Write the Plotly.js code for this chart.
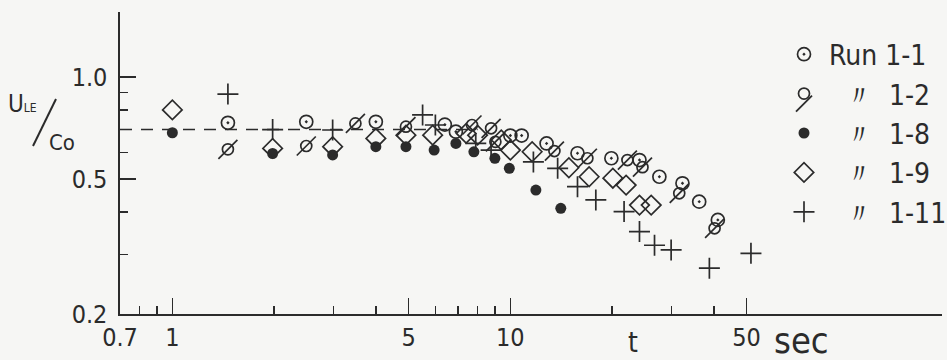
<!DOCTYPE html>
<html><head><meta charset="utf-8">
<script src="https://cdn.plot.ly/plotly-3.0.1.min.js"></script>
<style>html,body{margin:0;padding:0;background:#f6f6f4}</style>
</head><body><div id="chart" style="width:947px;height:360px"></div>
<script>
// Run 1-1 (circle with dot)
const run1_1_t = [1.46, 2.49, 4.0, 6.4, 6.9, 10.0, 10.8, 12.8, 15.8, 19.9, 24.1, 27.6, 32.3, 36.2, 41.1];
const run1_1_u = [0.733, 0.738, 0.738, 0.724, 0.69, 0.672, 0.672, 0.637, 0.596, 0.576, 0.569, 0.508, 0.486, 0.429, 0.379];
// Run 1-2 (slashed circle)
const run1_2_t = [1.46, 2.49, 3.48, 4.91, 7.7, 8.77, 9.03, 13.5, 16.9, 22.2, 24.6, 31.6, 40.2];
const run1_2_u = [0.612, 0.626, 0.73, 0.714, 0.722, 0.706, 0.644, 0.605, 0.576, 0.569, 0.542, 0.454, 0.358];
// Run 1-8 (filled circle)
const run1_8_t = [1.0, 1.98, 2.98, 4.0, 4.91, 5.95, 6.9, 7.8, 9.0, 9.93, 11.9, 14.1];
const run1_8_u = [0.685, 0.595, 0.589, 0.623, 0.623, 0.609, 0.637, 0.602, 0.576, 0.538, 0.464, 0.410];
// Run 1-9 (open diamond)
const run1_9_t = [1.0, 1.98, 2.98, 4.0, 4.91, 5.89, 7.4, 8.0, 9.4, 10.0, 11.6, 14.9, 17.1, 20.1, 22.0, 24.1, 26.1];
const run1_9_u = [0.80, 0.616, 0.623, 0.659, 0.674, 0.674, 0.682, 0.674, 0.652, 0.609, 0.602, 0.54, 0.508, 0.503, 0.48, 0.419, 0.419];
// Run 1-11 (plus)
const run1_11_t = [1.46, 1.98, 2.98, 5.5, 6.0, 7.9, 8.77, 11.7, 13.8, 15.8, 17.9, 21.7, 24.1, 26.7, 29.9, 38.8, 51.5];
const run1_11_u = [0.891, 0.70, 0.698, 0.773, 0.722, 0.637, 0.609, 0.562, 0.538, 0.475, 0.434, 0.401, 0.35, 0.319, 0.309, 0.273, 0.302];
// reference dashed level
const ref_t = [0.7, 8.0];
const ref_u = [0.70, 0.70];

const xTickVals = [0.7, 1, 5, 10, 50];
const xTickText = ['0.7', '1', '5', '10', '50'];
const xMinor = [0.8, 0.9, 2, 3, 4, 6, 7, 8, 9, 20, 30, 40];
const yTickVals = [0.2, 0.5, 1.0];
const yTickText = ['0.2', '0.5', '1.0'];
const yMinor = [0.3, 0.4, 0.6, 0.7, 0.8, 0.9];

const INK = '#2b2b2b';
const FONT = '"DejaVu Sans Condensed", "Liberation Sans Narrow", "DejaVu Sans", sans-serif';
const NB = '\u00A0';
const DITTO = NB+NB+'〃'+NB+NB;

const traces = [
  {x: ref_t, y: ref_u, mode: 'lines', line: {color: INK, width: 1.4, dash: '12px,9px'}, showlegend: false, hoverinfo: 'skip'},
  {x: run1_8_t, y: run1_8_u, mode: 'markers', name: DITTO+'1-8', legendrank: 3, legendgroup: 'c',
   marker: {symbol: 'circle', size: 11, color: INK}},
  {x: run1_9_t, y: run1_9_u, mode: 'markers', name: DITTO+'1-9', legendrank: 4, legendgroup: 'd',
   marker: {symbol: 'diamond-open', size: 15, color: INK, line: {width: 1.7, color: INK}}},
  {x: run1_1_t, y: run1_1_u, mode: 'markers', name: 'Run 1-1', legendrank: 1, legendgroup: 'a',
   marker: {symbol: 'circle-open-dot', size: 13, color: INK, line: {width: 1.7, color: INK}}},
  {x: run1_2_t, y: run1_2_u, mode: 'markers', name: DITTO+'1-2', legendrank: 2, legendgroup: 'b',
   marker: {symbol: 'circle-open', size: 11, color: INK, line: {width: 1.7, color: INK}}},
  {x: run1_2_t, y: run1_2_u, mode: 'markers', name: NB, legend: 'legend2',
   marker: {symbol: 'line-ne-open', size: 19, color: INK, line: {width: 1.7, color: INK}}},
  {x: run1_11_t, y: run1_11_u, mode: 'markers', name: DITTO+'1-11', legendrank: 5, legendgroup: 'e',
   marker: {symbol: 'cross-thin-open', size: 15, color: INK, line: {width: 1.7, color: INK}}}
];

const legendFont = {size: 28, family: FONT, color: INK};
const LX = (779-120)/822;
const layout = {
  width: 947, height: 360,
  margin: {l: 120, r: 5, t: 12, b: 46, autoexpand: false},
  paper_bgcolor: '#f6f6f4', plot_bgcolor: 'rgba(0,0,0,0)',
  font: {family: FONT, color: INK, size: 24},
  showlegend: true,
  legend: {x: LX, y: (314-29.5)/302, xanchor: 'left', yanchor: 'top', bgcolor: 'rgba(0,0,0,0)',
           font: legendFont, tracegroupgap: 27.5, traceorder: 'normal', itemwidth: 40},
  legend2: {x: LX, y: (314-104)/302, xanchor: 'left', yanchor: 'middle', bgcolor: 'rgba(0,0,0,0)',
           font: legendFont, itemwidth: 40},
  xaxis: {type: 'log', range: [Math.log10(0.7), Math.log10(0.7) + 822/338],
          showline: true, linecolor: INK, linewidth: 1.6, showgrid: false, zeroline: false,
          tickmode: 'array', tickvals: xTickVals, ticktext: xTickText,
          ticks: 'inside', ticklen: 16, tickwidth: 1.6, tickcolor: INK, ticklabelstandoff: 0,
          tickfont: {size: 25, family: FONT, color: INK},
          minor: {tickmode: 'array', tickvals: xMinor, ticks: 'inside', ticklen: 8, tickwidth: 1.4, tickcolor: INK, showgrid: false}},
  yaxis: {type: 'log', range: [Math.log10(0.2), Math.log10(0.2) + 302/339],
          showline: true, linecolor: INK, linewidth: 1.6, showgrid: false, zeroline: false,
          tickmode: 'array', tickvals: yTickVals, ticktext: yTickText,
          ticks: 'inside', ticklen: 16, tickwidth: 1.6, tickcolor: INK, ticklabelstandoff: 6,
          tickfont: {size: 25, family: FONT, color: INK},
          minor: {tickmode: 'array', tickvals: yMinor, ticks: 'inside', ticklen: 8, tickwidth: 1.4, tickcolor: INK, showgrid: false}},
  shapes: [
    {type: 'line', xref: 'paper', yref: 'paper', x0: (33-120)/822, y0: (314-146)/302, x1: (56-120)/822, y1: (314-99)/302,
     line: {color: INK, width: 2}}
  ],
  annotations: [
    {xref: 'paper', yref: 'paper', x: (633-120)/822, y: -(342-314)/302, text: 't', showarrow: false,
     font: {size: 28, family: FONT, color: INK}, xanchor: 'center', yanchor: 'middle'},
    {xref: 'paper', yref: 'paper', x: (772-120)/822, y: -(341-314)/302, text: 'sec', showarrow: false,
     font: {size: 36, family: FONT, color: INK}, xanchor: 'left', yanchor: 'middle'},
    {xref: 'paper', yref: 'paper', x: (6-120)/822, y: (314-104)/302, text: 'U<span style="font-size:12px">LE</span>', showarrow: false,
     font: {size: 24, family: FONT, color: INK}, xanchor: 'left', yanchor: 'middle'},
    {xref: 'paper', yref: 'paper', x: (47-120)/822, y: (314-142)/302, text: 'Co', showarrow: false,
     font: {size: 22, family: FONT, color: INK}, xanchor: 'left', yanchor: 'middle'}
  ]
};

Plotly.newPlot('chart', traces, layout, {displayModeBar: false, staticPlot: true});
</script>
</body></html>
